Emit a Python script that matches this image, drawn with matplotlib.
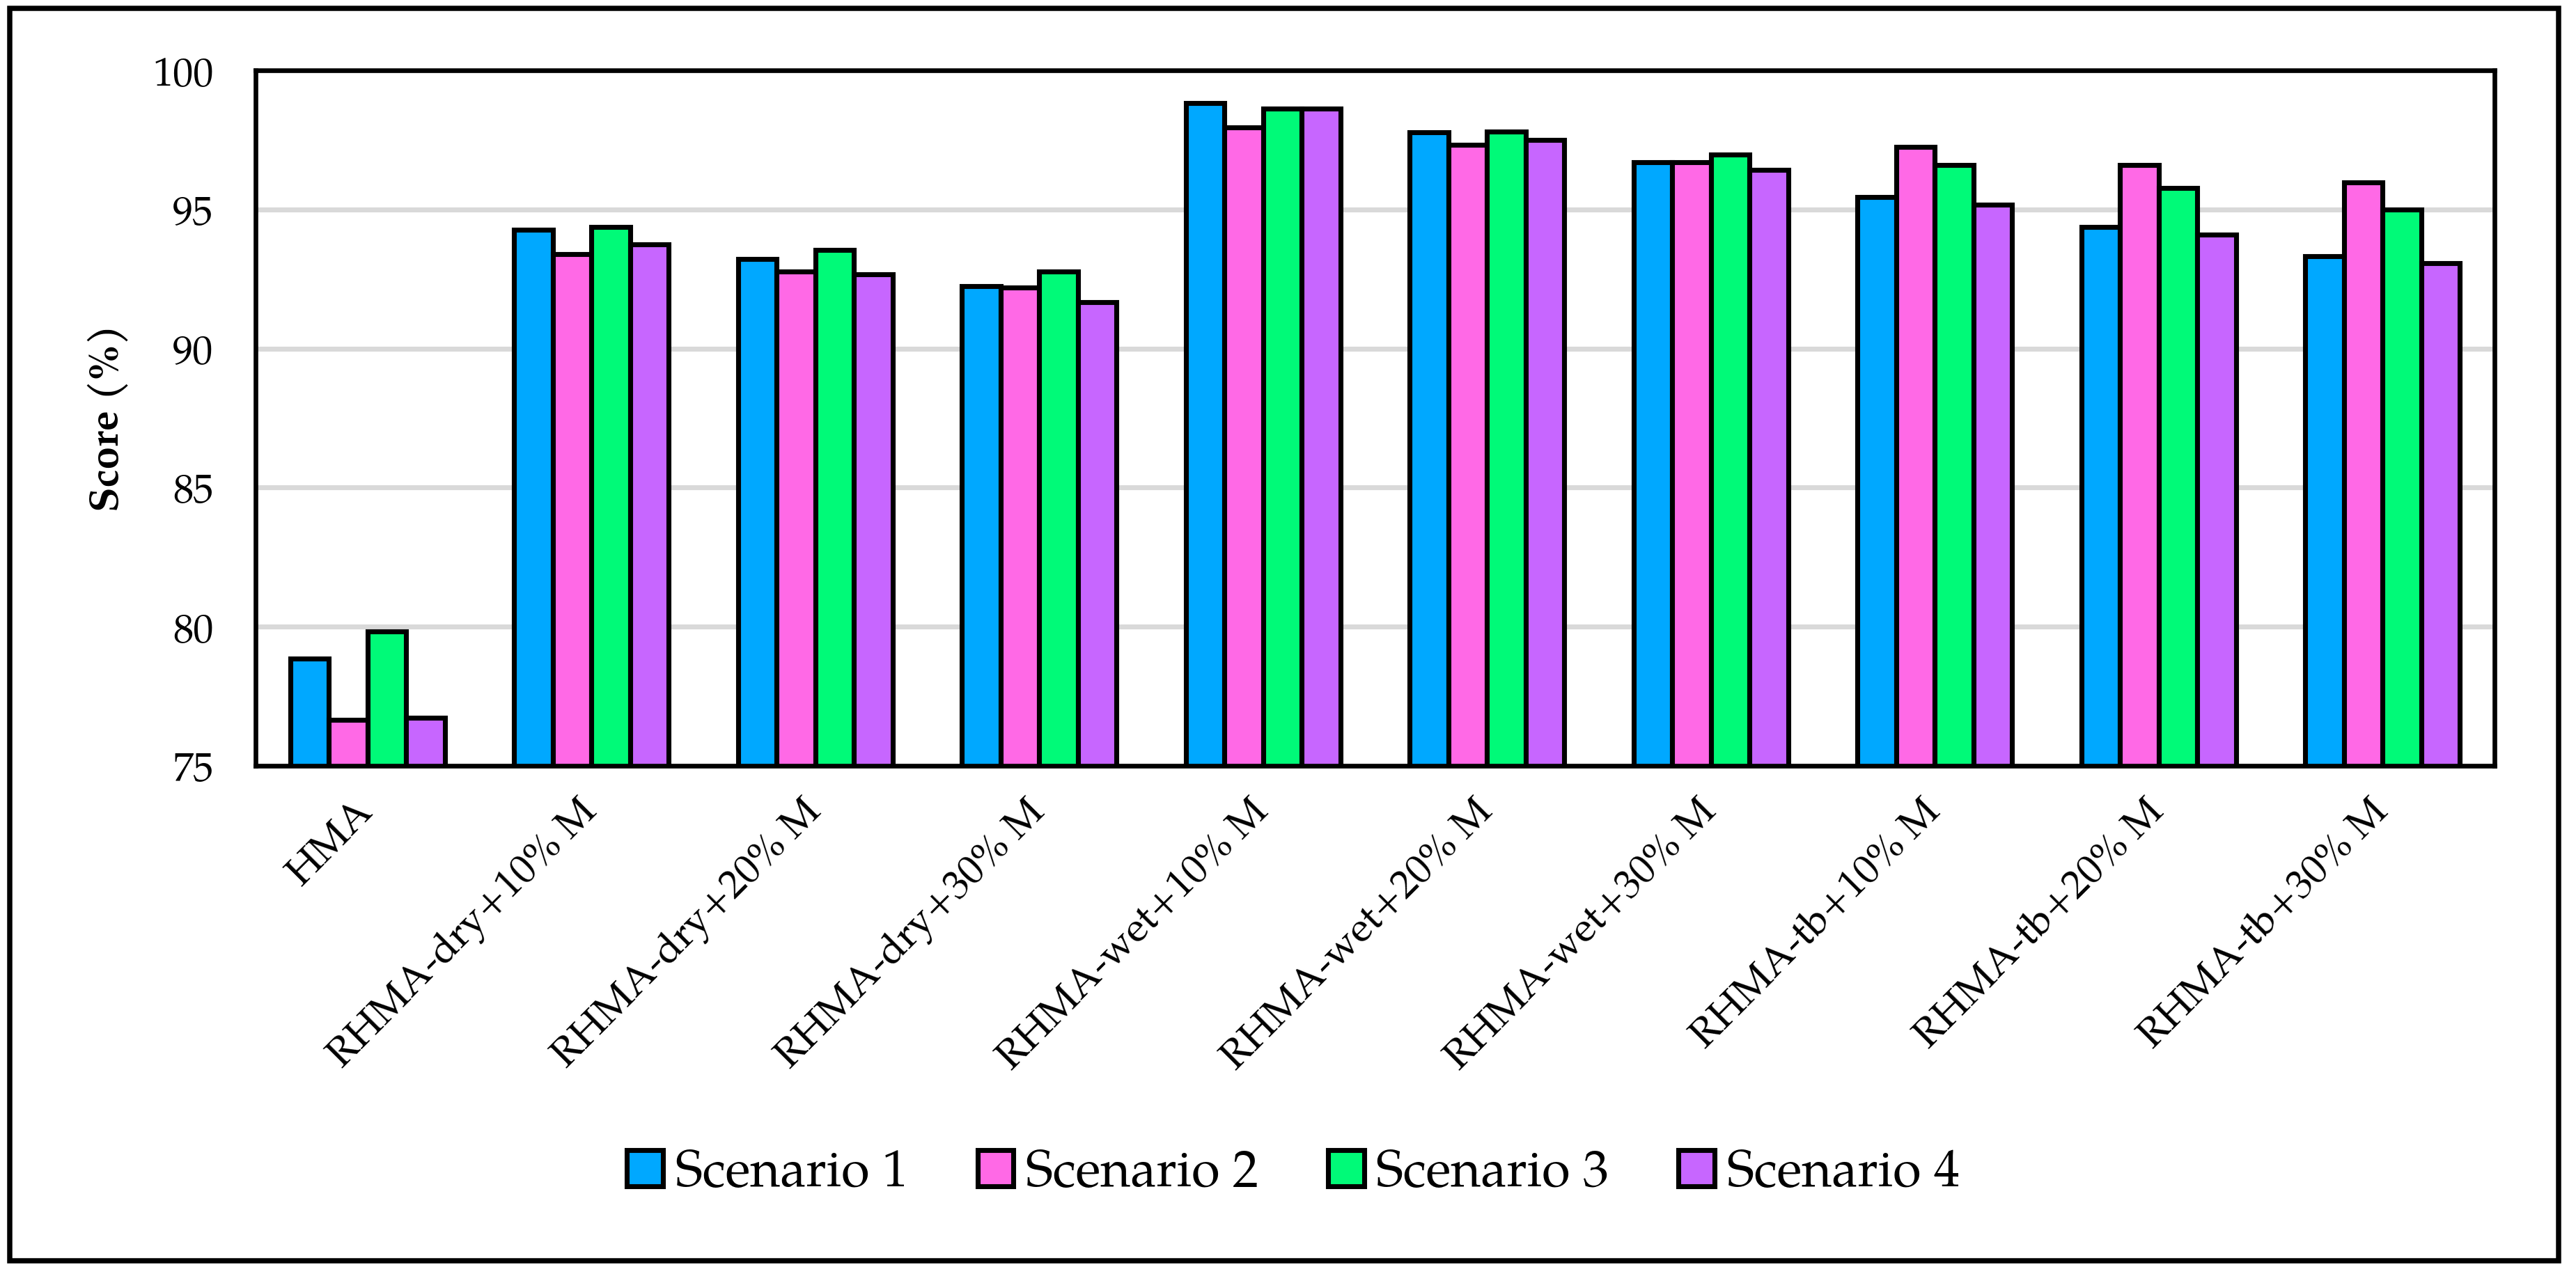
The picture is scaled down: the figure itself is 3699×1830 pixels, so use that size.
import matplotlib
matplotlib.use("Agg")
import matplotlib.pyplot as plt
from matplotlib import font_manager
from matplotlib.patches import Rectangle
import numpy as np

categories = ["HMA", "RHMA-dry+10% M", "RHMA-dry+20% M", "RHMA-dry+30% M",
              "RHMA-wet+10% M", "RHMA-wet+20% M", "RHMA-wet+30% M",
              "RHMA-tb+10% M", "RHMA-tb+20% M", "RHMA-tb+30% M"]
series_names = ["Scenario 1", "Scenario 2", "Scenario 3", "Scenario 4"]
scenario1 = [78.85, 94.27, 93.22, 92.25, 98.83, 97.77, 96.70, 95.44, 94.37, 93.33]
scenario2 = [76.64, 93.40, 92.77, 92.18, 97.96, 97.32, 96.69, 97.25, 96.60, 95.98]
scenario3 = [79.83, 94.36, 93.55, 92.77, 98.63, 97.81, 96.98, 96.60, 95.78, 94.99]
scenario4 = [76.73, 93.74, 92.67, 91.66, 98.63, 97.50, 96.43, 95.18, 94.10, 93.07]
yticks = [75, 80, 85, 90, 95, 100]

colors = ["#00A8FF", "#FF69E6", "#00FA78", "#C766FF"]

installed = {f.name for f in font_manager.fontManager.ttflist}
serif = "Liberation Serif"
for cand in ["TeX Gyre Pagella", "P052", "URW Palladio L", "Palatino Linotype", "Book Antiqua"]:
    if cand in installed:
        serif = cand
        break
plt.rcParams["font.family"] = [serif, "DejaVu Serif"]

W, H = 3699, 1830
dpi = 300
fig = plt.figure(figsize=(W / dpi, H / dpi), dpi=dpi)
ax = fig.add_axes([367 / W, 1 - 1100 / H, (3582 - 367) / W, (1100 - 101) / H])

x = np.arange(len(categories))
bw = 0.1727
series = [scenario1, scenario2, scenario3, scenario4]
for i, (vals, name, col) in enumerate(zip(series, series_names, colors)):
    ax.bar(x + (i - 1.5) * bw, vals, width=bw, color=col, edgecolor="black",
           linewidth=1.7, label=name, zorder=3)

ax.set_xlim(-0.5, len(categories) - 0.5)
ax.set_ylim(75, 100)
ax.set_yticks(yticks)
ax.set_yticklabels([str(v) for v in yticks], fontsize=14)
ax.set_xticks(x)
ax.set_xticklabels(categories, fontsize=14, rotation=45, ha="right", va="center",
                   rotation_mode="anchor")
ax.tick_params(axis="y", length=0, pad=14.5)
ax.tick_params(axis="x", length=0, pad=14)
ax.yaxis.grid(True, color="#D9D9D9", linewidth=1.7, zorder=0)
ax.set_axisbelow(True)
for sp in ax.spines.values():
    sp.set_linewidth(1.6)
    sp.set_color("black")
    sp.set_zorder(5)

ax.set_ylabel("Score (%)", fontsize=14, fontweight="bold")
ax.yaxis.set_label_coords((185 - 367) / (3582 - 367), 0.5)

leg = fig.legend(loc="center", bbox_to_anchor=(1857 / W, 1 - 1687 / H), ncol=4,
                 frameon=False, fontsize=17.8, handlelength=0.70, handleheight=0.70,
                 handletextpad=0.24, columnspacing=1.34, borderaxespad=0)

border = Rectangle((13.5 / W, 1 - 1811 / H), (3674 - 13.5) / W, (1811 - 12) / H,
                   transform=fig.transFigure, fill=False, edgecolor="black",
                   linewidth=1.8)
fig.patches.append(border)

fig.savefig("out.png", dpi=dpi, facecolor="white")
